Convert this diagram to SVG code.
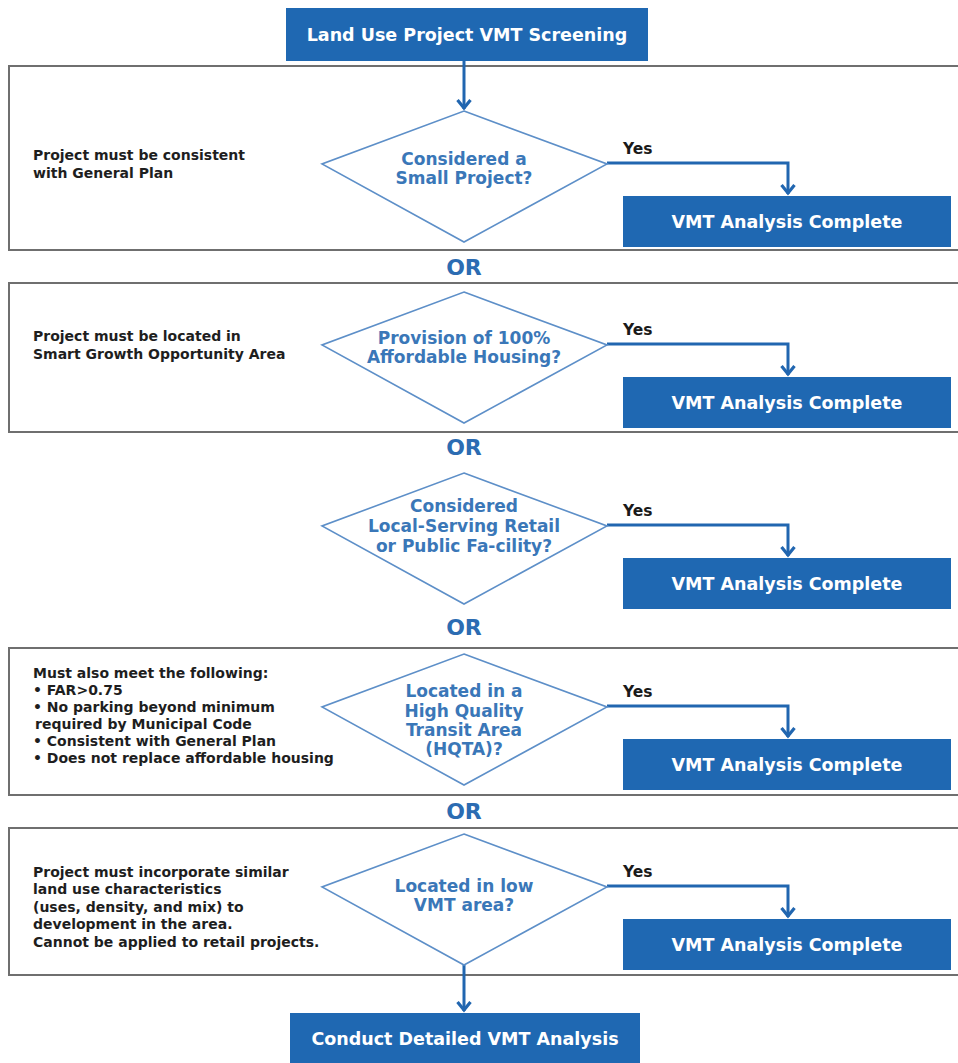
<svg xmlns="http://www.w3.org/2000/svg" width="958" height="1063" viewBox="0 0 958 1063">
<defs>
<style>
.panel{fill:#fff;stroke:#6f6f6f;stroke-width:2}
.box{fill:#1f68b2}
.boxt{font-family:"DejaVu Sans",sans-serif;font-weight:bold;font-size:17.5px;fill:#fff;text-anchor:middle}
.dia{fill:#fff;stroke:#5d8fc8;stroke-width:1.6}
.diat{font-family:"DejaVu Sans",sans-serif;font-weight:bold;font-size:17px;fill:#3a77b8;text-anchor:middle}
.note{font-family:"DejaVu Sans",sans-serif;font-weight:bold;font-size:14px;fill:#1e1e1e}
.yes{font-family:"DejaVu Sans",sans-serif;font-weight:bold;font-size:15.5px;fill:#1a1a1a}
.or{font-family:"DejaVu Sans",sans-serif;font-weight:bold;font-size:22px;fill:#2c6cb2;text-anchor:middle}
.con{fill:none;stroke:#2166b0;stroke-width:3;marker-end:url(#ah)}
</style>
<marker id="ah" markerUnits="userSpaceOnUse" markerWidth="20" markerHeight="20" viewBox="-10 -10 20 20" refX="0" refY="0" orient="auto" overflow="visible">
<path d="M-9,-6.5 L-1,0 L-9,6.5" fill="none" stroke="#2166b0" stroke-width="3.2"/>
</marker>
</defs>
<rect width="958" height="1063" fill="#fff"/>

<g id="panels">
<rect class="panel" x="9" y="66" width="960" height="184"/>
<rect class="panel" x="9" y="283" width="960" height="149"/>
<rect class="panel" x="9" y="648" width="960" height="147"/>
<rect class="panel" x="9" y="828" width="960" height="147"/>
</g>

<g id="connectors">
<line class="con" x1="464" y1="61" x2="464" y2="109"/>
<polyline class="con" points="607,163 788,163 788,194"/>
<polyline class="con" points="607,344 788,344 788,375"/>
<polyline class="con" points="607,525 788,525 788,556"/>
<polyline class="con" points="607,706 788,706 788,737"/>
<polyline class="con" points="607,886 788,886 788,917"/>
<line class="con" x1="464" y1="965" x2="464" y2="1011"/>
</g>

<g id="start">
<rect class="box" x="286" y="8" width="362" height="53"/>
<text class="boxt" x="467" y="41">Land Use Project VMT Screening</text>
</g>

<g id="q1">
<polygon class="dia" points="464,111 607,164 464,242 322,164"/>
<text class="diat" x="464" y="165">Considered a</text>
<text class="diat" x="464" y="184">Small Project?</text>
</g>
<g id="note1">
<text class="note" x="33" y="160">Project must be consistent</text>
<text class="note" x="33" y="178">with General Plan</text>
</g>
<text class="yes" x="623" y="154">Yes</text>
<g id="done1">
<rect class="box" x="623" y="196" width="328" height="51"/>
<text class="boxt" x="787" y="228">VMT Analysis Complete</text>
</g>
<text class="or" x="464" y="275">OR</text>

<g id="q2">
<polygon class="dia" points="464,292 607,345 464,423 322,345"/>
<text class="diat" x="464" y="344">Provision of 100%</text>
<text class="diat" x="464" y="363">Affordable Housing?</text>
</g>
<g id="note2">
<text class="note" x="33" y="341">Project must be located in</text>
<text class="note" x="33" y="359">Smart Growth Opportunity Area</text>
</g>
<text class="yes" x="623" y="335">Yes</text>
<g id="done2">
<rect class="box" x="623" y="377" width="328" height="51"/>
<text class="boxt" x="787" y="409">VMT Analysis Complete</text>
</g>
<text class="or" x="464" y="455">OR</text>

<g id="q3">
<polygon class="dia" points="464,473 607,526 464,604 322,526"/>
<text class="diat" x="464" y="512">Considered</text>
<text class="diat" x="464" y="532">Local-Serving Retail</text>
<text class="diat" x="464" y="552">or Public Fa-cility?</text>
</g>
<text class="yes" x="623" y="516">Yes</text>
<g id="done3">
<rect class="box" x="623" y="558" width="328" height="51"/>
<text class="boxt" x="787" y="590">VMT Analysis Complete</text>
</g>
<text class="or" x="464" y="635">OR</text>

<g id="q4">
<polygon class="dia" points="464,654 607,707 464,785 322,707"/>
<text class="diat" x="464" y="697">Located in a</text>
<text class="diat" x="464" y="717">High Quality</text>
<text class="diat" x="464" y="736">Transit Area</text>
<text class="diat" x="464" y="755">(HQTA)?</text>
</g>
<g id="note4">
<text class="note" x="33" y="678">Must also meet the following:</text>
<text class="note" x="33" y="695">• FAR&gt;0.75</text>
<text class="note" x="33" y="712">• No parking beyond minimum</text>
<text class="note" x="35" y="729">required by Municipal Code</text>
<text class="note" x="33" y="746">• Consistent with General Plan</text>
<text class="note" x="33" y="763">• Does not replace affordable housing</text>
</g>
<text class="yes" x="623" y="697">Yes</text>
<g id="done4">
<rect class="box" x="623" y="739" width="328" height="51"/>
<text class="boxt" x="787" y="771">VMT Analysis Complete</text>
</g>
<text class="or" x="464" y="819">OR</text>

<g id="q5">
<polygon class="dia" points="464,834 607,887 464,965 322,887"/>
<text class="diat" x="464" y="892">Located in low</text>
<text class="diat" x="464" y="911">VMT area?</text>
</g>
<g id="note5">
<text class="note" x="33" y="877">Project must incorporate similar</text>
<text class="note" x="33" y="894">land use characteristics</text>
<text class="note" x="33" y="912">(uses, density, and mix) to</text>
<text class="note" x="33" y="929">development in the area.</text>
<text class="note" x="33" y="947">Cannot be applied to retail projects.</text>
</g>
<text class="yes" x="623" y="877">Yes</text>
<g id="done5">
<rect class="box" x="623" y="919" width="328" height="51"/>
<text class="boxt" x="787" y="951">VMT Analysis Complete</text>
</g>

<g id="final">
<rect class="box" x="290" y="1013" width="350" height="52"/>
<text class="boxt" x="465" y="1045">Conduct Detailed VMT Analysis</text>
</g>
</svg>
